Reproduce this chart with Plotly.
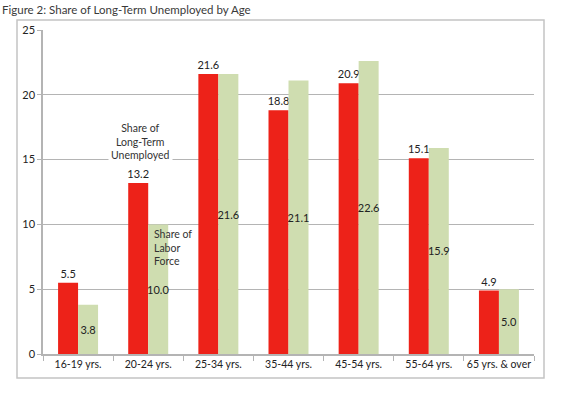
import plotly.graph_objects as go

categories = ["16-19 yrs.", "20-24 yrs.", "25-34 yrs.", "35-44 yrs.", "45-54 yrs.", "55-64 yrs.", "65 yrs. & over"]
long_term_unemployed = [5.5, 13.2, 21.6, 18.8, 20.9, 15.1, 4.9]
labor_force = [3.8, 10.0, 21.6, 21.1, 22.6, 15.9, 5.0]
y_ticks = [0, 5, 10, 15, 20, 25]

FONT = "Lato, 'Open Sans', sans-serif"
RED = "#ED2219"
GREEN = "#CFDDB0"
GRID = "#B4B4B4"

W, H = 580, 398
PL, PR, PT, PB = 43, 534, 30, 354  # plot area in pixels

fig = go.Figure()
fig.add_trace(go.Bar(
    x=categories, y=long_term_unemployed, name="Share of Long-Term Unemployed",
    marker=dict(color=RED, line=dict(width=0)),
    text=[f"{v:.1f}" for v in long_term_unemployed], textposition="outside",
    constraintext="none", hoverinfo="skip",
    textfont=dict(family=FONT, size=11, color="#222"), cliponaxis=False,
))
fig.add_trace(go.Bar(
    x=categories, y=labor_force, name="Share of Labor Force",
    marker=dict(color=GREEN, line=dict(width=0)),
    text=[f"{v:.1f}" for v in labor_force], textposition="inside",
    insidetextanchor="middle", textangle=0, constraintext="none", hoverinfo="skip",
    textfont=dict(family=FONT, size=11, color="#222"),
))

fig.update_layout(
    width=W, height=H,
    margin=dict(l=PL, r=W - PR, t=PT, b=H - PB, autoexpand=False),
    paper_bgcolor="white", plot_bgcolor="white",
    barmode="group", bargap=0.43, bargroupgap=0,
    showlegend=False,
    font=dict(family=FONT, size=11, color="#222"),
    title=dict(text="Figure 2: Share of Long-Term Unemployed by Age",
               x=2 / W, xanchor="left", xref="container",
               y=1 - 10 / H, yanchor="middle", yref="container",
               font=dict(family=FONT, size=11.5, color="#3a3a3a")),
    xaxis=dict(type="category", showgrid=False, showline=True, linecolor=GRID, linewidth=1.5,
               ticks="outside", tickson="boundaries", ticklen=5, tickcolor=GRID,
               tickangle=0, automargin=False,
               tickfont=dict(family=FONT, size=10.5, color="#222"), fixedrange=True),
    yaxis=dict(range=[0, 25], tickvals=y_ticks, showgrid=True, gridcolor=GRID, gridwidth=1.2,
               showline=True, linecolor=GRID, linewidth=1.5, ticks="outside", ticklen=4,
               tickcolor=GRID, zeroline=False, automargin=False,
               tickfont=dict(family=FONT, size=11, color="#222"), fixedrange=True),
)

pw, ph = PR - PL, PB - PT
fig.add_shape(type="rect", xref="paper", yref="paper",
              x0=(17 - PL) / pw, x1=(544 - PL) / pw,
              y0=(PB - 378) / ph, y1=(PB - 20) / ph,
              line=dict(color="#C4C4C4", width=1.5), fillcolor="rgba(0,0,0,0)", layer="below")

fig.add_annotation(x=0.886, y=16.4, xref="x", yref="y",
                   text="Share of<br>Long-Term<br>Unemployed", showarrow=False,
                   align="center", xanchor="center", yanchor="middle",
                   bgcolor="white", borderpad=2,
                   font=dict(family=FONT, size=10.5, color="#333"))
fig.add_annotation(x=1.057, y=8.2, xref="x", yref="y",
                   text="Share of<br>Labor<br>Force", showarrow=False,
                   align="left", xanchor="left", yanchor="middle",
                   font=dict(family=FONT, size=10.5, color="#333"))

fig.write_html("out.html", config={"displayModeBar": False},
               post_script="document.body.style.margin='0';document.body.style.padding='0';")
